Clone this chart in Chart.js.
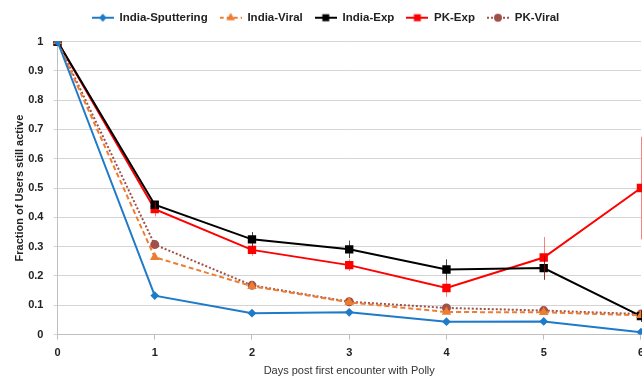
<!DOCTYPE html>
<html>
<head>
<meta charset="utf-8">
<script src="https://cdn.jsdelivr.net/npm/chart.js@4.4.0/dist/chart.umd.min.js"></script>
<style>
  html, body { margin: 0; padding: 0; background: #fff; overflow: hidden; }
  #wrap { width: 651px; height: 378px; position: relative; }
</style>
</head>
<body>
<div id="wrap"><canvas id="myChart"></canvas></div>
<script>
// days after first encounter
var days = ['0', '1', '2', '3', '4', '5', '6'];

var indiaSputtering = [1, 0.133, 0.073, 0.076, 0.044, 0.045, 0.008];
var indiaViral      = [1, 0.264, 0.165, 0.11, 0.077, 0.076, 0.066];
var indiaExp        = [1, 0.443, 0.325, 0.291, 0.222, 0.227, 0.063];
var pkExp           = [1, 0.428, 0.289, 0.237, 0.159, 0.263, 0.5];
var pkViral         = [1, 0.307, 0.168, 0.112, 0.091, 0.082, 0.07];

// half-length of the error bars
var indiaSputteringErr = [0, 0.01, 0.01, 0.01, 0.01, 0.01, 0.005];
var indiaExpErr        = [0, 0.01, 0.025, 0.03, 0.035, 0.04, 0.02];
var pkExpErr           = [0, 0.025, 0.02, 0.02, 0.03, 0.07, 0.175];

var yTicks = [0, 0.1, 0.2, 0.3, 0.4, 0.5, 0.6, 0.7, 0.8, 0.9, 1];

var FONT = '"Liberation Sans", Arial, sans-serif';

function legendIcon(color, dash, style, r) {
  var c = document.createElement('canvas');
  c.width = 22; c.height = 10;
  var x = c.getContext('2d');
  x.strokeStyle = color;
  x.lineWidth = 2;
  x.setLineDash(dash);
  x.beginPath(); x.moveTo(0, 5); x.lineTo(22, 5); x.stroke();
  x.setLineDash([]);
  x.fillStyle = color;
  Chart.helpers.drawPoint(x, {pointStyle: style, radius: r, borderWidth: 1}, 11, 5);
  x.fill();
  return c;
}

var errorBars = {
  id: 'errorBars',
  afterDatasetsDraw: function(chart) {
    var ctx = chart.ctx;
    var ys = chart.scales.y;
    chart.data.datasets.forEach(function(ds, i) {
      if (!ds.errors) return;
      var meta = chart.getDatasetMeta(i);
      ctx.save();
      ctx.strokeStyle = ds.errorColor;
      ctx.lineWidth = 1;
      meta.data.forEach(function(pt, j) {
        var e = ds.errors[j];
        if (!e) return;
        var v = ds.data[j];
        ctx.beginPath();
        ctx.moveTo(Math.round(pt.x) + 0.5, ys.getPixelForValue(v - e));
        ctx.lineTo(Math.round(pt.x) + 0.5, ys.getPixelForValue(v + e));
        ctx.stroke();
      });
      ctx.restore();
    });
  }
};

// a bit more room under the legend
var legendGap = {
  id: 'legendGap',
  beforeInit: function(chart) {
    var fit = chart.legend.fit;
    chart.legend.fit = function() {
      fit.bind(chart.legend)();
      this.height += 8;
    };
  }
};

var config = {
  type: 'line',
  data: {
    labels: days,
    datasets: [{
      label: 'India-Sputtering',
      data: indiaSputtering,
      errors: indiaSputteringErr,
      errorColor: 'rgba(31,123,200,0.8)',
      borderColor: '#1F7BC8',
      backgroundColor: '#1F7BC8',
      borderWidth: 2,
      pointStyle: 'rectRot',
      pointRadius: 3,
      legendIcon: legendIcon('#1F7BC8', [], 'rectRot', 2.5)
    }, {
      label: 'India-Viral',
      data: indiaViral,
      borderColor: '#ED7D31',
      backgroundColor: '#ED7D31',
      borderWidth: 2,
      borderDash: [5, 3],
      pointStyle: 'triangle',
      pointRadius: 3.5,
      legendIcon: legendIcon('#ED7D31', [4, 3], 'triangle', 3)
    }, {
      label: 'India-Exp',
      data: indiaExp,
      errors: indiaExpErr,
      errorColor: 'rgba(0,0,0,0.7)',
      borderColor: '#000000',
      backgroundColor: '#000000',
      borderWidth: 2,
      pointStyle: 'rect',
      pointRadius: 4.5,
      legendIcon: legendIcon('#000000', [], 'rect', 3.5)
    }, {
      label: 'PK-Exp',
      data: pkExp,
      errors: pkExpErr,
      errorColor: 'rgba(255,0,0,0.5)',
      borderColor: '#FF0000',
      backgroundColor: '#FF0000',
      borderWidth: 2,
      pointStyle: 'rect',
      pointRadius: 4.5,
      legendIcon: legendIcon('#FF0000', [], 'rect', 3.5)
    }, {
      label: 'PK-Viral',
      data: pkViral,
      borderColor: '#A0504A',
      backgroundColor: '#A0504A',
      borderWidth: 2,
      borderDash: [2, 2],
      pointStyle: 'circle',
      pointRadius: 3.5,
      legendIcon: legendIcon('#A0504A', [2, 2], 'circle', 3)
    }]
  },
  options: {
    responsive: true,
    maintainAspectRatio: false,
    animation: false,
    layout: { padding: { top: 0, left: 0, right: 0, bottom: 0 } },
    plugins: {
      tooltip: { enabled: false },
      legend: {
        position: 'top',
        labels: {
          usePointStyle: true,
          pointStyleWidth: 22,
          boxHeight: 10,
          padding: 12,
          color: '#222',
          font: { family: FONT, size: 11.5, weight: 'bold' },
          generateLabels: function(chart) {
            return chart.data.datasets.map(function(ds, i) {
              return {
                text: ds.label,
                pointStyle: ds.legendIcon,
                fillStyle: ds.borderColor,
                strokeStyle: ds.borderColor,
                lineWidth: 0,
                fontColor: '#222',
                datasetIndex: i
              };
            });
          }
        }
      }
    },
    scales: {
      x: {
        offset: false,
        border: { color: '#BFBFBF', width: 1 },
        grid: { display: true, drawOnChartArea: false, drawTicks: true, tickLength: 5, color: '#BFBFBF' },
        ticks: { color: '#222', font: { family: FONT, size: 11, weight: 'bold' }, padding: 7, maxRotation: 0 },
        title: { display: true, text: 'Days post first encounter with Polly', color: '#333', font: { family: FONT, size: 11 }, padding: { top: -2, bottom: 0 } }
      },
      y: {
        min: 0,
        max: 1,
        afterBuildTicks: function(axis) { axis.ticks = yTicks.map(function(v) { return { value: v }; }); },
        border: { display: true, color: '#BFBFBF', width: 1 },
        grid: { color: '#D4D4D4', lineWidth: 1, drawTicks: true, tickLength: 4 },
        ticks: {
          color: '#222',
          font: { family: FONT, size: 11, weight: 'bold' },
          padding: 10,
          callback: function(v) { return String(Math.round(v * 10) / 10); }
        },
        title: { display: true, text: 'Fraction of Users still active', color: '#222', font: { family: FONT, size: 11, weight: 'bold' }, padding: { top: 13, bottom: -8 } }
      }
    }
  },
  plugins: [errorBars, legendGap]
};

var ctx = document.getElementById('myChart').getContext('2d');
window.myChart = new Chart(ctx, config);
</script>
</body>
</html>
